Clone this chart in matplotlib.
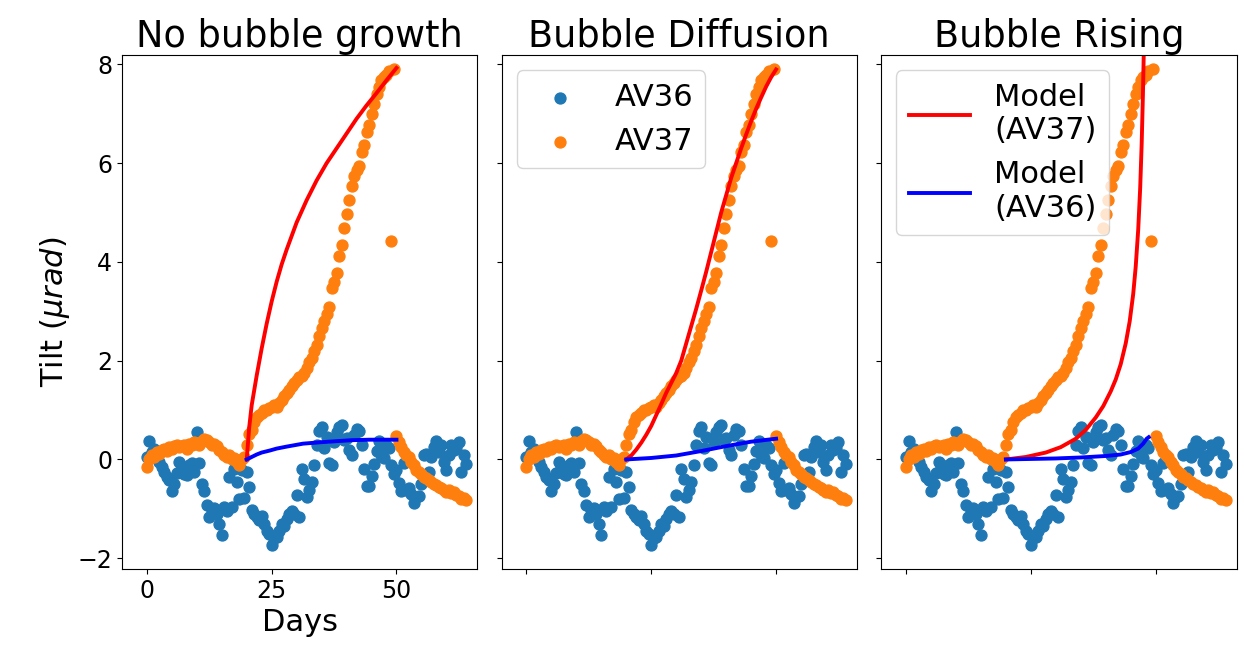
import numpy as np
import matplotlib.pyplot as plt

plt.rcParams['font.size'] = 22
plt.rcParams['xtick.labelsize'] = 17
plt.rcParams['ytick.labelsize'] = 17

# observation times (days), two samples per day
days = np.arange(0, 64.5, 0.5)

# station AV36 tilt (microradians)
av36 = [
    0.05, 0.38, 0.15, 0.22, 0.05, -0.05, -0.15, -0.26, -0.35, -0.42,
    -0.63, -0.5, -0.28, -0.05, -0.16, -0.3, -0.32, -0.12, -0.08, -0.25,
    0.55, -0.08, -0.49, -0.63, -0.93, -1.17, -1.03, -0.98, -1.1, -1.3,
    -1.54, -0.97, -1.05, -0.36, -0.97, -0.2, -0.46, -0.8, -0.22, -0.79,
    -0.25, -0.55, -1.03, -1.1, -1.17, -1.22, -1.15, -1.3, -1.44, -1.5,
    -1.74, -1.6, -1.57, -1.45, -1.3, -1.35, -1.2, -1.1, -1.05, -1.1,
    -0.73, -1.17, -0.19, -0.4, -0.77, -0.61, -0.45, -0.12, 0.3, 0.58,
    0.66, 0.23, 0.45, -0.08, -0.12, 0.35, 0.55, 0.65, 0.69, 0.4,
    0.44, 0.2, 0.09, 0.5, 0.62, 0.58, 0.3, -0.19, -0.53, -0.54,
    -0.33, -0.1, 0.18, 0.37, 0.1, 0.02, 0.3, 0.24, -0.12, -0.3,
    -0.22, -0.47, -0.63, -0.08, -0.61, -0.57, -0.7, -0.89, -0.77, -0.75,
    -0.5, 0.09, 0.12, -0.26, 0.04, 0.25, 0.37, 0.15, 0.3, -0.05,
    -0.22, 0.1, 0.3, 0.2, 0.24, 0.35, -0.26, 0.09, -0.1,
]

# station AV37 tilt (microradians)
av37 = [
    -0.15, 0.0, 0.1, 0.05, 0.15, 0.12, 0.2, 0.22, 0.18, 0.25,
    0.22, 0.28, 0.3, 0.25, 0.28, 0.3, 0.22, 0.32, 0.3, 0.35,
    0.34, 0.3, 0.38, 0.42, 0.4, 0.35, 0.3, 0.32, 0.28, 0.2,
    0.15, 0.08, 0.05, 0.1, 0.0, 0.02, -0.05, -0.12, 0.0, 0.05,
    0.3, 0.51, 0.6, 0.75, 0.86, 0.9, 0.95, 1.0, 1.0, 1.05,
    1.07, 1.1, 1.07, 1.15, 1.2, 1.28, 1.35, 1.4, 1.48, 1.55,
    1.6, 1.66, 1.7, 1.76, 1.85, 1.97, 2.05, 2.2, 2.32, 2.5,
    2.67, 2.8, 2.95, 3.09, 3.47, 3.6, 3.78, 4.13, 4.34, 4.69,
    4.97, 5.25, 5.53, 5.74, 5.87, 5.94, 6.22, 6.36, 6.64, 6.78,
    6.99, 7.2, 7.41, 7.55, 7.69, 7.75, 7.79, 7.86, 4.42, 7.9,
    0.48, 0.35, 0.25, 0.15, 0.1, 0.04, -0.05, -0.12, -0.22, -0.25,
    -0.3, -0.36, -0.38, -0.42, -0.45, -0.49, -0.52, -0.55, -0.58, -0.62,
    -0.66, -0.62, -0.68, -0.66, -0.72, -0.75, -0.8, -0.78, -0.82,
]

# model: no bubble growth
m1_t37 = [20, 20.5, 21, 22, 23, 24, 25, 26, 27, 28, 30, 32, 34, 36, 38, 40, 42, 44, 46, 48, 50]
m1_y37 = [0, 0.65, 1.1, 1.7, 2.25, 2.75, 3.2, 3.6, 3.95, 4.25, 4.8, 5.25, 5.65, 6.0,
          6.3, 6.6, 6.9, 7.17, 7.42, 7.68, 7.93]
m1_t36 = [20, 21, 22, 23, 24.6, 26, 28, 31.3, 35, 38, 41, 44.6, 47.5, 50]
m1_y36 = [0, 0.05, 0.1, 0.14, 0.18, 0.22, 0.26, 0.32, 0.35, 0.37, 0.39, 0.4, 0.4, 0.4]

# model: bubble diffusion
m2_t37 = [20, 21, 22, 23, 24, 25, 26, 27, 28, 29, 30, 31, 32, 33, 34, 35, 36, 37, 38,
          39, 40, 41, 42, 43, 44, 45, 46, 47, 48, 49, 50]
m2_y37 = [0, 0.08, 0.2, 0.34, 0.5, 0.68, 0.9, 1.12, 1.35, 1.55, 1.75, 2.0, 2.35, 2.7,
          3.05, 3.42, 3.8, 4.2, 4.6, 5.0, 5.35, 5.7, 6.0, 6.3, 6.58, 6.85, 7.1, 7.33,
          7.55, 7.74, 7.9]
m2_t36 = [20, 25, 30, 35, 40, 45, 50]
m2_y36 = [0, 0.03, 0.08, 0.17, 0.27, 0.36, 0.42]

# model: bubble rising
m3_t37 = [20, 24, 28, 31, 34, 36, 38, 39.5, 41, 42, 43, 44, 44.8, 45.5, 46, 46.5, 46.9,
          47.2, 47.45, 47.65, 47.8]
m3_y37 = [0, 0.05, 0.14, 0.25, 0.42, 0.6, 0.85, 1.08, 1.38, 1.62, 1.93, 2.35, 2.8, 3.35,
          3.9, 4.65, 5.5, 6.4, 7.4, 8.4, 9.5]
m3_t36 = [20, 25, 30, 35, 40, 43, 45, 46.5, 47.5, 48.2, 48.6]
m3_y36 = [0, 0.01, 0.02, 0.04, 0.07, 0.1, 0.15, 0.22, 0.32, 0.42, 0.45]

titles = ['No bubble growth', 'Bubble Diffusion', 'Bubble Rising']
models = [
    (m1_t37, m1_y37, m1_t36, m1_y36),
    (m2_t37, m2_y37, m2_t36, m2_y36),
    (m3_t37, m3_y37, m3_t36, m3_y36),
]

fig, axs = plt.subplots(1, 3, figsize=(12.44, 6.64), dpi=100, sharey=True)
fig.subplots_adjust(left=0.098, right=0.994, top=0.917, bottom=0.143, wspace=0.068)

for i, ax in enumerate(axs):
    s1 = ax.scatter(days, av36, s=62, color='C0', label='AV36')
    s2 = ax.scatter(days, av37, s=62, color='C1', label='AV37')
    t37, y37, t36, y36 = models[i]
    l1, = ax.plot(t37, y37, color='red', lw=2.8, label='Model\n(AV37)')
    l2, = ax.plot(t36, y36, color='blue', lw=2.8, label='Model\n(AV36)')
    ax.set_title(titles[i])
    ax.set_xlim(-5, 66.2)
    ax.set_ylim(-2.22, 8.19)
    ax.set_xticks([0, 25, 50])
    if i > 0:
        ax.set_xticklabels([])
    if i == 1:
        ax.legend(handles=[s1, s2], loc='upper left')
    if i == 2:
        ax.legend(handles=[l1, l2], loc='upper left')

axs[0].set_xlabel('Days')
axs[0].set_ylabel(r'Tilt ($\mu rad$)')

plt.savefig('out.png')
